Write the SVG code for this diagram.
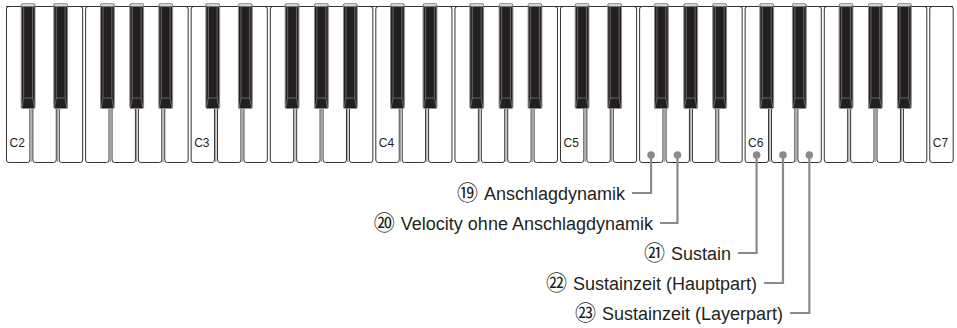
<svg xmlns="http://www.w3.org/2000/svg" xmlns:xlink="http://www.w3.org/1999/xlink" width="957" height="328" viewBox="0 0 957 328">
<style>
.wk{fill:#fff;stroke:#333;stroke-width:1}
.topline{stroke:#333;stroke-width:1;fill:none}
.sep{stroke:#a0a0a0;stroke-width:1.3;fill:none}
.bkbody{fill:#231f20;stroke:#8c8c8c;stroke-width:1}
.bkcap{fill:#d2d2d2}
.bkhl{fill:none;stroke:#777;stroke-width:0.8}
.note{font-family:"Liberation Sans",Arial,sans-serif;font-size:12px;fill:#231f20}
.lbl{font-family:"Liberation Sans",Arial,"Noto Sans CJK JP",sans-serif;font-size:18px;fill:#231f20;text-anchor:end}
.num{font-family:"Noto Sans CJK JP","DejaVu Sans",sans-serif;font-size:21px}
.conn{fill:none;stroke:#8a8a8a;stroke-width:2.2}
.dot{fill:#8a8a8a}
</style>
<defs>
<rect id="wk" class="wk" x="0.5" y="6.5" width="23.4" height="156" rx="2.5"/>
<g id="bk">
<rect class="bkbody" x="0.5" y="3.5" width="13.8" height="105" rx="1.5"/>
<rect class="bkcap" x="1" y="3.8" width="12.8" height="2.6" rx="1"/>
<path class="bkhl" d="M3,6.5V98H11.8V6.5M3,98L1.2,107.8M11.8,98L13.6,107.8"/>
</g>
<g id="octave">
<use xlink:href="#wk" x="0"/>
<use xlink:href="#wk" x="26.38"/>
<use xlink:href="#wk" x="52.76"/>
<use xlink:href="#wk" x="79.14"/>
<use xlink:href="#wk" x="105.52"/>
<use xlink:href="#wk" x="131.9"/>
<use xlink:href="#wk" x="158.28"/>
<path class="topline" d="M0,6.5H184.66"/>
<path class="sep" d="M25.14,108.5V162M51.52,108.5V162M104.28,108.5V162M130.66,108.5V162M157.04,108.5V162"/>
<use xlink:href="#bk" x="14.7"/>
<use xlink:href="#bk" x="47.3"/>
<use xlink:href="#bk" x="94"/>
<use xlink:href="#bk" x="123.3"/>
<use xlink:href="#bk" x="152.3"/>
</g>
</defs>

<g id="keyboard">
<use xlink:href="#octave" x="6"/>
<use xlink:href="#octave" x="190.66"/>
<use xlink:href="#octave" x="375.32"/>
<use xlink:href="#octave" x="559.98"/>
<use xlink:href="#octave" x="744.64"/>
<use xlink:href="#wk" x="929.3"/>
<path class="topline" d="M929.3,6.5H953"/>
<text class="note" x="9.5" y="147">C2</text>
<text class="note" x="194.2" y="147">C3</text>
<text class="note" x="378.8" y="147">C4</text>
<text class="note" x="563.5" y="147">C5</text>
<text class="note" x="748.1" y="147">C6</text>
<text class="note" x="932.8" y="147">C7</text>
</g>

<g id="connectors">
<path class="conn" d="M651.07,155V193H632"/>
<path class="conn" d="M677.45,155V223H660"/>
<path class="conn" d="M756.59,155V253H738"/>
<path class="conn" d="M782.97,155V283H764"/>
<path class="conn" d="M809.35,155V313H790"/>
<circle class="dot" cx="651.07" cy="155" r="3.8"/>
<circle class="dot" cx="677.45" cy="155" r="3.8"/>
<circle class="dot" cx="756.59" cy="155" r="3.8"/>
<circle class="dot" cx="782.97" cy="155" r="3.8"/>
<circle class="dot" cx="809.35" cy="155" r="3.8"/>
</g>

<g id="label19"><text class="lbl" x="625" y="199.5"><tspan class="num">⑲</tspan><tspan dx="6">Anschlagdynamik</tspan></text></g>
<g id="label20"><text class="lbl" x="653" y="229.5"><tspan class="num">⑳</tspan><tspan dx="6">Velocity ohne Anschlagdynamik</tspan></text></g>
<g id="label21"><text class="lbl" x="731" y="259.5"><tspan class="num">㉑</tspan><tspan dx="6">Sustain</tspan></text></g>
<g id="label22"><text class="lbl" x="757" y="289.5"><tspan class="num">㉒</tspan><tspan dx="6">Sustainzeit (Hauptpart)</tspan></text></g>
<g id="label23"><text class="lbl" x="783" y="319.5"><tspan class="num">㉓</tspan><tspan dx="6">Sustainzeit (Layerpart)</tspan></text></g>
</svg>
